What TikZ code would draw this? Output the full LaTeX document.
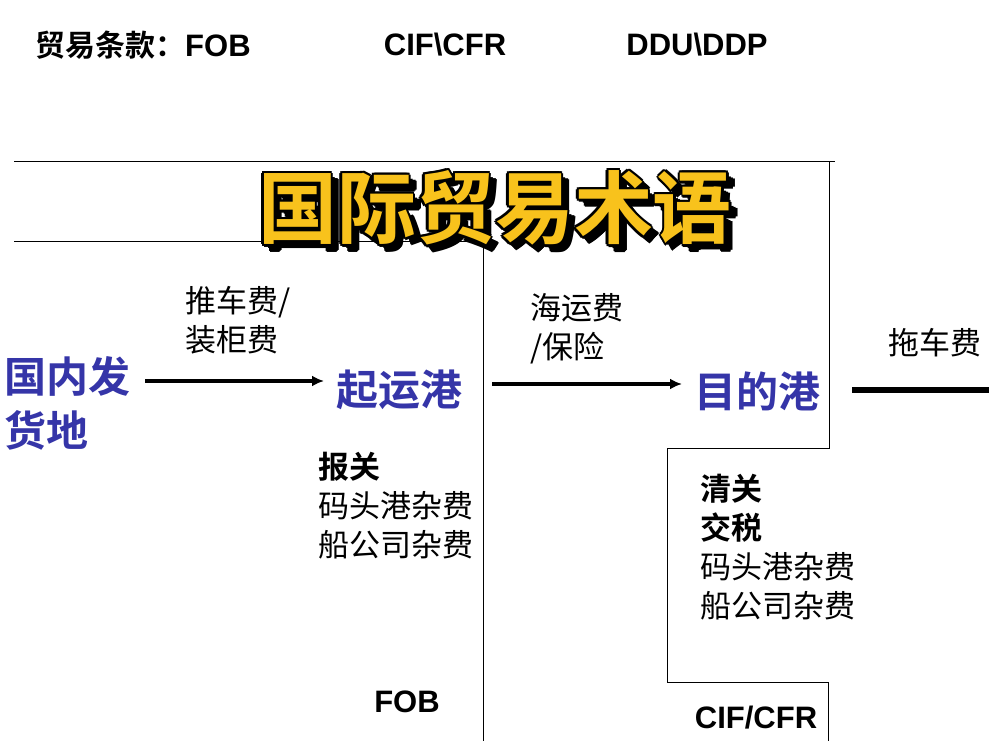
\documentclass[tikz,border=0pt]{standalone}
\usepackage{fontspec}
\setmainfont{Liberation Sans}
\newfontfamily\cjk{Noto Sans CJK SC}
\newfontfamily\cjkb{Noto Sans CJK SC Bold}
\usetikzlibrary{arrows.meta}
\definecolor{tblue}{HTML}{3535A8}
\definecolor{tyel}{HTML}{F8C21C}
\begin{document}
\begin{tikzpicture}[x=1pt,y=-1pt,
  line/.style={line width=1pt},
  arr/.style={line width=4pt,-{Latex[length=12pt,width=11pt]}},
  port/.style={font=\cjkb\fontsize{42}{54}\selectfont,text=tblue,inner sep=0pt},
  lbl/.style={font=\cjk\fontsize{31}{39}\selectfont,inner sep=0pt,anchor=north west,align=left},
  term/.style={font=\bfseries\fontsize{31}{34}\selectfont,inner sep=0pt}]
\useasboundingbox (0,0) rectangle (989,741);
% header
\node[anchor=west,inner sep=0pt] (h1) at (35,45) {{\cjkb\fontsize{30}{32}\selectfont 贸易条款：}{\bfseries\fontsize{31}{34}\selectfont FOB}};
\node[term] (h2) at (445,45) {CIF\textbackslash CFR};
\node[term] (h3) at (697,45) {DDU\textbackslash DDP};
% frame lines
\draw[line] (14,162) -- (835,162);
\draw[line] (829,162) -- (829,448) -- (667,448) -- (667,682) -- (828,682) -- (828,741);
\draw[line] (14,242) -- (483,242) -- (483,741);
% title
\foreach \dx/\dy in {7/7,6/8,8/6,5/7,7/5,4/4,-2.5/0,2.5/0,0/-2.5,0/2.5,-1.8/-1.8,1.8/1.8,-1.8/1.8,1.8/-1.8}
  \node[font=\cjkb\fontsize{79}{80}\selectfont,text=black,inner sep=0pt] at (495+\dx,208+\dy) {国际贸易术语};
\node[font=\cjkb\fontsize{79}{80}\selectfont,text=tyel,inner sep=0pt] (title) at (495,208) {国际贸易术语};
% ports
\node[port,anchor=north west,align=left] (home) at (4,356) {国内发\\货地};
\node[port] (load) at (399,390) {起运港};
\node[port] (dest) at (757,391) {目的港};
\coordinate (a1s) at (145,381);
\coordinate (a1e) at (324,381);
\draw[arr] (a1s) -- (a1e);
\coordinate (a2s) at (492,384);
\coordinate (a2e) at (682,384);
\draw[arr] (a2s) -- (a2e);
\coordinate (a3s) at (852,390);
\coordinate (a3e) at (989,390);
\draw[line width=6pt] (a3s) -- (a3e);
% labels
\node[lbl] (l1) at (185,286) {推车费/\\装柜费};
\node[lbl] (l2) at (530,293) {海运费\\/保险};
\node[lbl] (l3) at (888,328) {拖车费};
\node[lbl] (l4) at (318,452) {{\cjkb 报关}\\码头港杂费\\船公司杂费};
\node[lbl] (l5) at (700,474) {{\cjkb 清关}\\{\cjkb 交税}\\码头港杂费\\船公司杂费};
\node[term] (fob) at (407,702) {FOB};
\node[term] (cif) at (756,718) {CIF/CFR};
\end{tikzpicture}
\end{document}
